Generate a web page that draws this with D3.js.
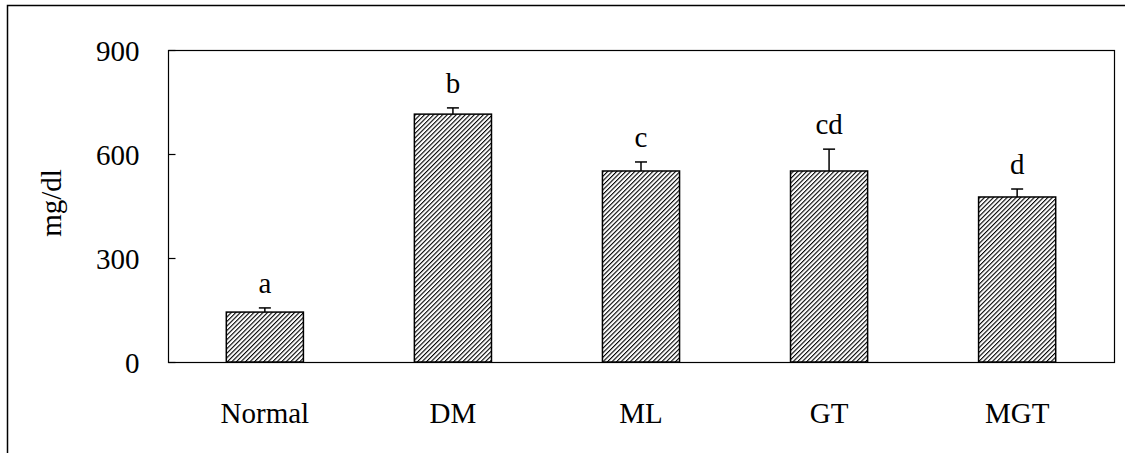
<!DOCTYPE html>
<html>
<head>
<meta charset="utf-8">
<script src="https://cdn.jsdelivr.net/npm/d3@7"></script>
<style>
  body { margin: 0; background: #fff; }
  text { font-family: "Liberation Serif", "Times New Roman", serif; fill: #000; }
</style>
</head>
<body>
<script>
var groups = ["Normal", "DM", "ML", "GT", "MGT"];
var means = [144, 715, 551, 551, 476];
var errors = [12, 18, 26, 63, 23];
var letters = ["a", "b", "c", "cd", "d"];
var yTicks = [0, 300, 600, 900];

var W = 1125, H = 453;
var plot = {left: 168, top: 50, right: 1114, bottom: 362};
var fontSize = 29;

var svg = d3.select("body").append("svg")
    .attr("width", W)
    .attr("height", H);

// hatch pattern for the bars
var hs = 3.2;
var pat = svg.append("defs").append("pattern")
    .attr("id", "hatch")
    .attr("patternUnits", "userSpaceOnUse")
    .attr("width", hs)
    .attr("height", hs)
    .attr("patternTransform", "rotate(45)");
pat.append("rect").attr("width", hs).attr("height", hs).attr("fill", "#fff");
pat.append("line")
    .attr("x1", 0).attr("y1", 0).attr("x2", 0).attr("y2", hs)
    .attr("stroke", "#000").attr("stroke-width", 2.2);

// outer frame (left + top only)
svg.append("path")
    .attr("d", "M7.5,453 V5.5 H1125")
    .attr("fill", "none")
    .attr("stroke", "#000")
    .attr("stroke-width", 1.5);

var x = d3.scaleBand().domain(groups)
    .range([plot.left, plot.right])
    .paddingInner(0.59)
    .paddingOuter(0.31);

var y = d3.scaleLinear().domain([0, 900])
    .range([plot.bottom, plot.top]);

// plot box
svg.append("rect")
    .attr("x", plot.left + 0.5)
    .attr("y", plot.top + 0.5)
    .attr("width", plot.right - plot.left)
    .attr("height", plot.bottom - plot.top)
    .attr("fill", "none")
    .attr("stroke", "#000")
    .attr("stroke-width", 1.2);

// y axis
var yAxis = svg.append("g")
    .attr("transform", "translate(" + (plot.left + 0.5) + ",0)")
    .call(d3.axisLeft(y).tickValues(yTicks).tickSize(-7).tickPadding(29));
yAxis.select(".domain").remove();
yAxis.selectAll("line").attr("stroke", "#000").attr("stroke-width", 1.2);
yAxis.selectAll("text")
    .style("font-family", "Liberation Serif, Times New Roman, serif")
    .attr("font-size", fontSize)
    .attr("dy", "0.36em")
    .attr("fill", "#000");

// x labels
var xAxis = svg.append("g")
    .attr("transform", "translate(0," + plot.bottom + ")")
    .call(d3.axisBottom(x).tickSize(0).tickPadding(40));
xAxis.select(".domain").remove();
xAxis.selectAll("text")
    .style("font-family", "Liberation Serif, Times New Roman, serif")
    .attr("font-size", fontSize)
    .attr("fill", "#000");

// y title
svg.append("text")
    .attr("transform", "translate(61,203) rotate(-90)")
    .attr("text-anchor", "middle")
    .attr("font-size", fontSize)
    .text("mg/dl");

// error bars
var err = svg.selectAll(".err")
    .data(groups)
  .enter().append("g")
    .attr("class", "err");
err.append("line")
    .attr("x1", function(d) { return x(d) + x.bandwidth() / 2; })
    .attr("x2", function(d) { return x(d) + x.bandwidth() / 2; })
    .attr("y1", function(d, i) { return y(means[i]); })
    .attr("y2", function(d, i) { return y(means[i] + errors[i]); })
    .attr("stroke", "#000").attr("stroke-width", 1.5);
err.append("line")
    .attr("x1", function(d) { return x(d) + x.bandwidth() / 2 - 6; })
    .attr("x2", function(d) { return x(d) + x.bandwidth() / 2 + 6; })
    .attr("y1", function(d, i) { return y(means[i] + errors[i]); })
    .attr("y2", function(d, i) { return y(means[i] + errors[i]); })
    .attr("stroke", "#000").attr("stroke-width", 1.5);

// bars
svg.selectAll(".bar")
    .data(groups)
  .enter().append("rect")
    .attr("class", "bar")
    .attr("x", function(d) { return x(d); })
    .attr("y", function(d, i) { return y(means[i]); })
    .attr("width", x.bandwidth())
    .attr("height", function(d, i) { return y(0) - y(means[i]); })
    .attr("fill", "url(#hatch)")
    .attr("stroke", "#000")
    .attr("stroke-width", 1.5);

// significance letters
svg.selectAll(".letter")
    .data(groups)
  .enter().append("text")
    .attr("class", "letter")
    .attr("x", function(d) { return x(d) + x.bandwidth() / 2; })
    .attr("y", function(d, i) { return y(means[i] + errors[i]) - 15; })
    .attr("text-anchor", "middle")
    .attr("font-size", fontSize)
    .text(function(d, i) { return letters[i]; });
</script>
</body>
</html>
